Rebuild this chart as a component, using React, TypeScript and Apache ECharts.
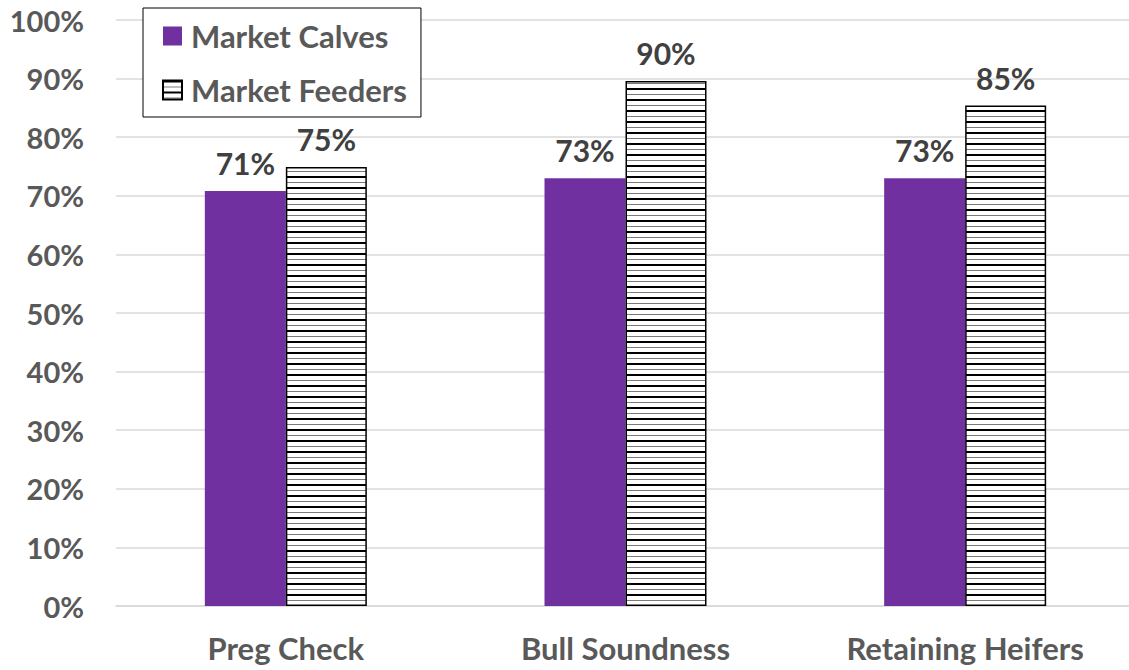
import React, { useEffect, useRef } from "react";
import * as echarts from "echarts";

const categories = ["Preg Check", "Bull Soundness", "Retaining Heifers"];
const calves = [70.8, 73.0, 73.0];
const feeders = [74.9, 89.6, 85.4];
const seriesNames = ["Market Calves", "Market Feeders"];

function makePattern(): string {
  const c = document.createElement("canvas");
  c.width = 4;
  c.height = 11;
  const ctx = c.getContext("2d")!;
  ctx.fillStyle = "#ffffff";
  ctx.fillRect(0, 0, 4, 11);
  ctx.fillStyle = "#000000";
  ctx.fillRect(0, 0, 4, 2);
  ctx.fillStyle = "#7a7a7a";
  ctx.fillRect(0, 6, 4, 1);
  return c.toDataURL();
}

export default function App() {
  const ref = useRef<HTMLDivElement>(null);
  useEffect(() => {
    if (!ref.current) return;
    const chart = echarts.init(ref.current, undefined, { renderer: "svg" });
    const pattern = { image: makePattern(), repeat: "repeat" } as any;
    const font = "Lato, 'Open Sans', sans-serif";
    const barLabel = {
      show: true,
      position: "top",
      distance: 13,
      formatter: (p: any) => Math.round(p.value) + "%",
      fontSize: 30,
      fontWeight: "bold",
      color: "#404040",
      fontFamily: font,
    };
    chart.setOption({
      animation: false,
      backgroundColor: "#ffffff",
      textStyle: { fontFamily: font },
      grid: { left: 116, top: 20, right: 5, bottom: 64, containLabel: false },
      legend: {
        orient: "vertical",
        left: 143,
        top: 8,
        padding: [12, 14, 11, 19],
        borderColor: "#000000",
        borderWidth: 1,
        backgroundColor: "#ffffff",
        itemGap: 22,
        itemWidth: 19,
        itemHeight: 19,
        icon: "rect",
        data: seriesNames,
        textStyle: {
          fontSize: 31,
          fontWeight: "bold",
          color: "#595959",
          fontFamily: font,
          lineHeight: 32,
          padding: [0, 0, 0, 4],
        },
      },
      xAxis: {
        type: "category",
        data: categories,
        axisLine: { show: true, lineStyle: { color: "#d9d9d9", width: 1.5 } },
        axisTick: { show: false },
        axisLabel: {
          fontSize: 31,
          fontWeight: "bold",
          color: "#595959",
          margin: 26,
          fontFamily: font,
        },
      },
      yAxis: {
        type: "value",
        min: 0,
        max: 100,
        interval: 10,
        axisLine: { show: false },
        axisTick: { show: false },
        splitLine: { lineStyle: { color: "#d9d9d9", width: 1.5 } },
        axisLabel: {
          formatter: "{value}%",
          fontSize: 29,
          fontWeight: "bold",
          color: "#595959",
          margin: 32,
          fontFamily: font,
        },
      },
      series: [
        {
          name: seriesNames[0],
          type: "bar",
          data: calves,
          barWidth: 81,
          barGap: "0%",
          itemStyle: { color: "#7030A0" },
          label: barLabel,
        },
        {
          name: seriesNames[1],
          type: "bar",
          data: feeders,
          barWidth: 81,
          barGap: "0%",
          itemStyle: { color: pattern, borderColor: "#000000", borderWidth: 1.5 },
          label: barLabel,
        },
      ],
    });
    return () => chart.dispose();
  }, []);
  return (
    <div
      style={{
        position: "absolute",
        left: 0,
        top: 0,
        width: 1129,
        height: 670,
        overflow: "hidden",
      }}
    >
      <div ref={ref} style={{ width: 1140, height: 670 }} />
    </div>
  );
}
